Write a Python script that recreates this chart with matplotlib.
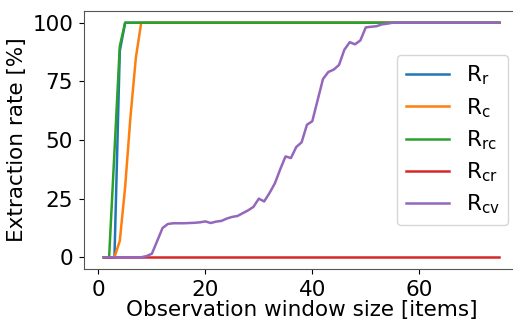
import numpy as np
import matplotlib
matplotlib.use("Agg")
import matplotlib.pyplot as plt

# Observation window sizes
window = np.arange(1, 76)

# Extraction rates [%] (first points, rest are 100 or 0)
r_r = [0, 0, 0, 88, 100] + [100] * 70
r_c = [0, 0, 0, 7, 30, 60, 85, 100] + [100] * 67
r_rc = [0, 0, 45, 90, 100] + [100] * 70
r_cr = [0] * 75
r_cv = [0, 0, 0, 0, 0, 0, 0, 0, 0.5, 1.5,
        7, 12.5, 14.2, 14.5, 14.5, 14.5, 14.6, 14.7, 14.9, 15.3,
        14.6, 15.2, 15.5, 16.5, 17.2, 17.6, 18.8, 20, 21.5, 25,
        23.8, 27.4, 31.5, 37.5, 43, 42.3, 47, 49, 56.5, 58,
        67, 76, 79, 80, 82, 88.5, 91.7, 90.8, 92.5, 98,
        98.3, 98.5, 99.3, 99.6] + [100] * 21

labels = [r"$\mathregular{R_{r}}$", r"$\mathregular{R_{c}}$",
          r"$\mathregular{R_{rc}}$", r"$\mathregular{R_{cr}}$",
          r"$\mathregular{R_{cv}}$"]

plt.rcParams['font.size'] = 15.5

fig = plt.figure(figsize=(5.13, 3.2), dpi=100)
# axes runs past the right edge, like the cropped original
ax = fig.add_axes([0.1637, 0.1594, 0.8484, 0.8062])

for series, label in zip([r_r, r_c, r_rc, r_cr, r_cv], labels):
    ax.plot(window, series, label=label, linewidth=1.8)

ax.set_xlim(-2.7, 78.7)
ax.set_ylim(-5, 105)
ax.set_yticks([0, 25, 50, 75, 100])
ax.set_xticks([0, 20, 40, 60])
ax.tick_params(length=3.8, pad=4)
ax.set_xlabel('Observation window size [items]', labelpad=0)
ax.set_ylabel('Extraction rate [%]', labelpad=4)
for s in ax.spines.values():
    s.set_color('#555555')
ax.spines['right'].set_visible(False)

ax.legend(loc='center right', labelspacing=0.4)

fig.savefig('out.png', dpi=100)
